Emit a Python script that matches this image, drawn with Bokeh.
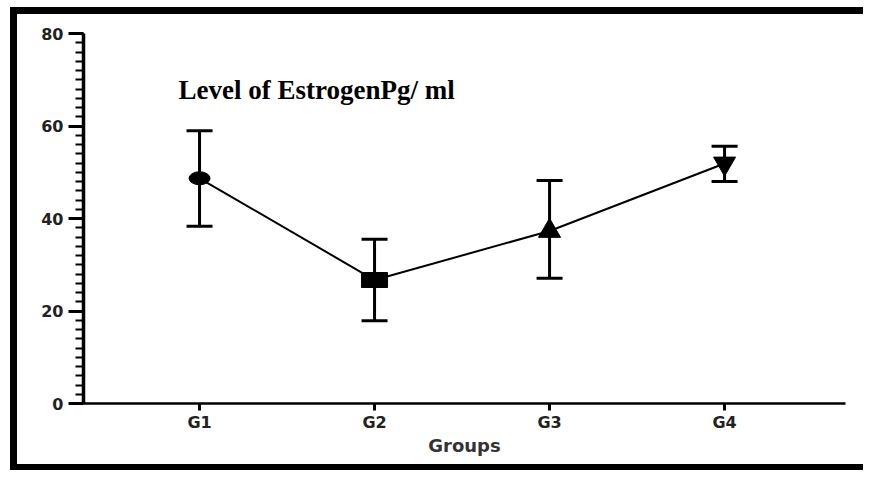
from bokeh.plotting import figure
from bokeh.models import (ColumnDataSource, Whisker, TeeHead, Range1d, FixedTicker,
                          SingleIntervalTicker, Label, Div, Spacer)
from bokeh.layouts import row, column
from bokeh.embed import file_html
from bokeh.resources import INLINE

# ---- data ----
groups = ["G1", "G2", "G3", "G4"]
means = [48.7, 26.7, 37.3, 51.9]
lower = [38.3, 17.9, 27.1, 48.0]
upper = [59.0, 35.5, 48.2, 55.6]
title_text = "Level of EstrogenPg/ ml"
x_label = "Groups"

xpos = [i + 1 for i in range(len(groups))]

p = figure(frame_width=762, frame_height=370,
           min_border_left=66, min_border_right=18, min_border_top=19, min_border_bottom=61,
           x_range=Range1d(0.337, 4.691), y_range=Range1d(0, 80),
           output_backend="svg", toolbar_location=None, margin=(0, 0, 0, 0))
p.background_fill_color = "white"
p.border_fill_color = "white"
p.outline_line_color = None
p.grid.visible = False

src = ColumnDataSource(dict(x=xpos, m=means, lo=lower, hi=upper))

# connecting line
p.line("x", "m", source=src, line_color="black", line_width=2)

# error bars
w = Whisker(base="x", lower="lo", upper="hi", source=src, dimension="height",
            line_color="black", line_width=3,
            upper_head=TeeHead(size=26, line_width=3, line_color="black"),
            lower_head=TeeHead(size=26, line_width=3, line_color="black"))
p.add_layout(w)

# markers
p.ellipse(x=[xpos[0]], y=[means[0]], width=21, height=13, width_units="screen",
          height_units="screen", fill_color="black", line_color="black")
p.rect(x=[xpos[1]], y=[means[1]], width=26, height=15, width_units="screen",
       height_units="screen", fill_color="black", line_color="black")
p.scatter(x=[xpos[2]], y=[means[2]], marker="triangle", size=22,
          fill_color="black", line_color="black")
p.scatter(x=[xpos[3]], y=[means[3]], marker="inverted_triangle", size=22,
          fill_color="black", line_color="black")

# x axis
xa = p.xaxis[0]
xa.ticker = FixedTicker(ticks=xpos)
xa.major_label_overrides = {x: g for x, g in zip(xpos, groups)}
xa.axis_line_width = 2.5
xa.axis_line_color = "black"
xa.major_tick_out = 7
xa.major_tick_in = 0
xa.major_tick_line_width = 3
xa.minor_tick_line_color = None
xa.major_label_text_font = "DejaVu Sans"
xa.major_label_text_font_style = "bold"
xa.major_label_text_font_size = "16px"
xa.major_label_text_color = "#222222"
xa.major_label_standoff = 2
xa.axis_label = x_label
xa.axis_label_text_font = "DejaVu Sans"
xa.axis_label_text_font_style = "bold"
xa.axis_label_text_font_size = "18px"
xa.axis_label_text_color = "#333333"
xa.axis_label_standoff = 0

# y axis
ya = p.yaxis[0]
ya.ticker = SingleIntervalTicker(interval=20, num_minor_ticks=10)
ya.axis_line_width = 3.5
ya.axis_line_color = "black"
ya.major_tick_out = 15
ya.major_tick_in = 0
ya.major_tick_line_width = 3
ya.minor_tick_out = 8
ya.minor_tick_in = 0
ya.minor_tick_line_width = 2
ya.major_label_text_font = "DejaVu Sans"
ya.major_label_text_font_style = "bold"
ya.major_label_text_font_size = "16px"
ya.major_label_text_color = "#222222"
ya.major_label_standoff = 5

# title text inside plot
p.add_layout(Label(x=0.88, y=67.7, text=title_text, text_font="Liberation Serif",
                   text_font_style="bold", text_font_size="27px", text_color="black",
                   text_baseline="alphabetic"))

# thick outer frame built from black blocks around the figure
black = {"background-color": "black"}
left_bar = Div(text="", width=7, height=463, styles=black, margin=(0, 0, 0, 0))
top_bar = Div(text="", width=846, height=7, styles=black, margin=(0, 0, 0, 0))
bottom_bar = Div(text="", width=846, height=6, styles=black, margin=(0, 0, 0, 0))

inner = column(top_bar, p, bottom_bar, spacing=0, margin=(0, 0, 0, 0))
framed = row(left_bar, inner, spacing=0, margin=(0, 0, 0, 0))
layout = row(Spacer(width=10, height=470, margin=(0, 0, 0, 0)),
             column(Spacer(width=853, height=7, margin=(0, 0, 0, 0)), framed,
                    spacing=0, margin=(0, 0, 0, 0)),
             spacing=0, margin=(0, 0, 0, 0))

open("out.html", "w").write(file_html(layout, INLINE))
